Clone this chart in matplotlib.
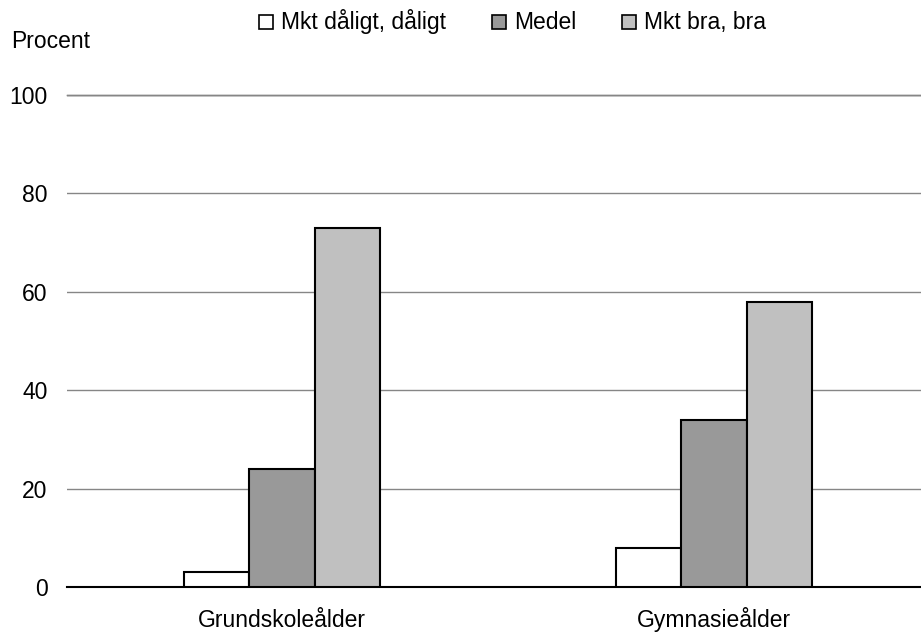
import numpy as np
import matplotlib.pyplot as plt
from matplotlib.patches import Rectangle

plt.rcParams['font.family'] = ['Liberation Sans', 'DejaVu Sans']

categories = ['Grundskoleålder', 'Gymnasieålder']
series = ['Mkt dåligt, dåligt', 'Medel', 'Mkt bra, bra']
values = [[3, 8], [24, 34], [73, 58]]
colors = ['#ffffff', '#999999', '#c0c0c0']

W, H = 921, 642
fig = plt.figure(figsize=(W/100, H/100), dpi=100)
ax = fig.add_axes([67/W, 1-587/H, (W-67)/W, (587-95)/H])

x = np.arange(len(categories))
w = 0.152
for i in range(3):
    ax.bar(x + (i-1)*w, values[i], w, color=colors[i], edgecolor='black', linewidth=1.5, zorder=3)

ax.set_xlim(-215/432, 1 + 207/432)
ax.set_ylim(0, 100)
ax.set_yticks([0, 20, 40, 60, 80, 100])
ax.set_xticks(x)
ax.set_xticklabels(categories, va='baseline')
ax.tick_params(length=0, labelsize=16.5)
ax.tick_params(axis='x', pad=29)
ax.tick_params(axis='y', pad=14)
ax.yaxis.grid(True, color='#868686', linewidth=1, zorder=0)
for s in ['top', 'right', 'left']:
    ax.spines[s].set_visible(False)
ax.spines['bottom'].set_linewidth(1.5)
ax.axhline(100, color='#222222', linewidth=1, zorder=1, clip_on=False)

fig.text(11/W, 1-48/H, 'Procent', fontsize=16.5, va='baseline', ha='left')

# legend drawn by hand so all labels share one baseline
leg_x = [259, 492, 622]
for lx, c, name in zip(leg_x, colors, series):
    fig.patches.append(Rectangle((lx/W, 1-29/H), 14/W, 14/H, transform=fig.transFigure,
                                 facecolor=c, edgecolor='black', linewidth=1.2))
    fig.text((lx+22)/W, 1-29/H, name, fontsize=16.5, va='baseline', ha='left')

fig.savefig('out.png')
